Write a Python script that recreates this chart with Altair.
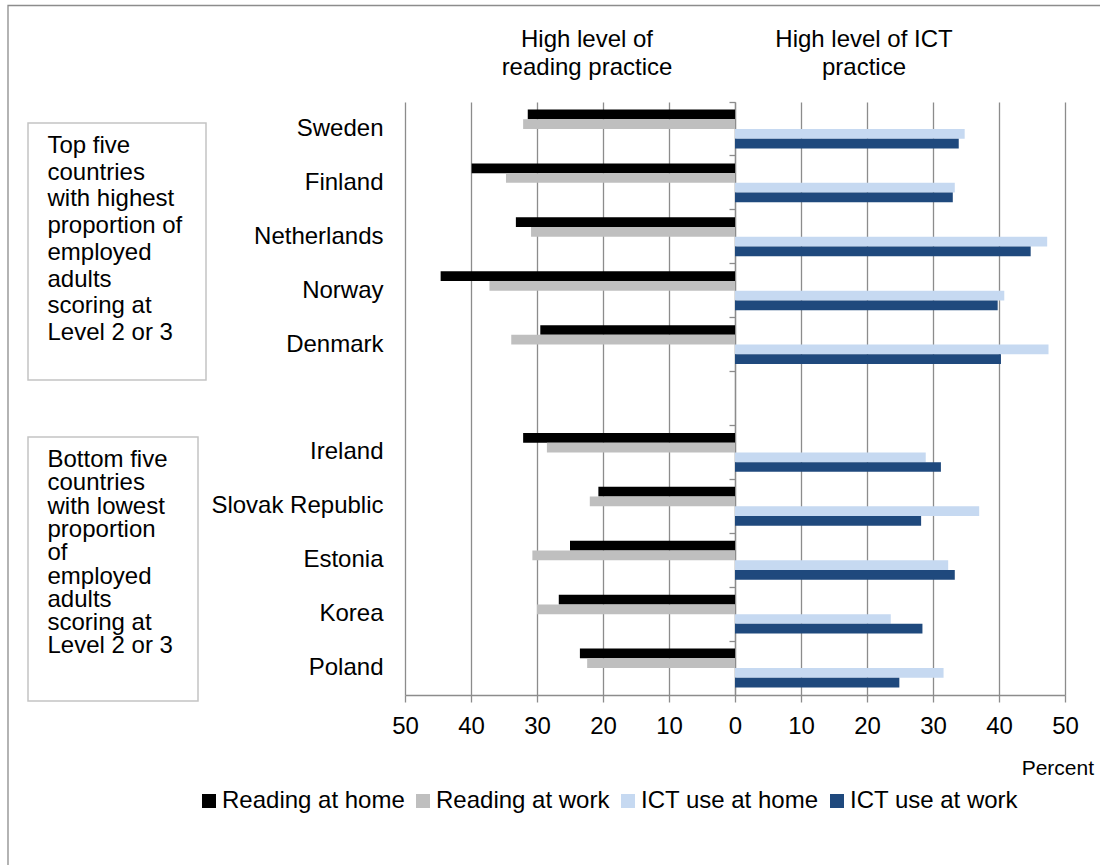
import altair as alt
import pandas as pd

countries = ["Sweden", "Finland", "Netherlands", "Norway", "Denmark",
             "Ireland", "Slovak Republic", "Estonia", "Korea", "Poland"]
reading_home = [31.4, 39.9, 33.2, 44.6, 29.5, 32.1, 20.7, 25.0, 26.7, 23.5]
reading_work = [32.1, 34.7, 30.9, 37.2, 33.9, 28.5, 22.0, 30.7, 30.0, 22.4]
ict_home = [34.8, 33.3, 47.3, 40.8, 47.5, 28.9, 37.0, 32.3, 23.6, 31.6]
ict_work = [33.9, 33.0, 44.8, 39.8, 40.3, 31.2, 28.2, 33.3, 28.4, 24.9]
series = ["Reading at home", "Reading at work", "ICT use at home", "ICT use at work"]
colors = ["#000000", "#bfbfbf", "#c6d9f1", "#1f497d"]
row_order = countries[:5] + ["gap"] + countries[5:]
x_ticks = [-50, -40, -30, -20, -10, 0, 10, 20, 30, 40, 50]

top_note = ["Top five", "countries", "with highest", "proportion of", "employed",
            "adults", "scoring at", "Level 2 or 3"]
bottom_note = ["Bottom five", "countries", "with lowest", "proportion", "of",
               "employed", "adults", "scoring at", "Level 2 or 3"]

rows = []
for i, c in enumerate(countries):
    rows.append({"country": c, "series": series[0], "value": -reading_home[i]})
    rows.append({"country": c, "series": series[1], "value": -reading_work[i]})
    rows.append({"country": c, "series": series[2], "value": ict_home[i]})
    rows.append({"country": c, "series": series[3], "value": ict_work[i]})
df = pd.DataFrame(rows)
one = pd.DataFrame({"k": [0]})

FONT = "Liberation Sans"
FS = 24
GRID = "#8c8c8c"

W, H = 660, 593

ysc = alt.Scale(domain=row_order, paddingInner=0, paddingOuter=0)

bars = alt.Chart(df).mark_bar().encode(
    x=alt.X("value:Q",
            scale=alt.Scale(domain=[-50, 50], nice=False),
            axis=alt.Axis(values=x_ticks, labelExpr="abs(datum.value)", grid=True,
                          gridColor=GRID, gridWidth=1.3, domainColor=GRID, domainWidth=1.3,
                          tickColor=GRID, tickWidth=1.3, tickSize=7, labelFontSize=FS,
                          labelFont=FONT, labelColor="black", labelPadding=12,
                          labelFlush=False, labelOverlap=False, title=None)),
    y=alt.Y("country:N", scale=ysc,
            axis=alt.Axis(orient="left", domain=False, ticks=False, labelFontSize=FS,
                          labelFont=FONT, labelColor="black", labelPadding=22,
                          labelExpr="datum.value == 'gap' ? '' : datum.value",
                          title=None, grid=False, labelLimit=0)),
    yOffset=alt.YOffset("series:N", sort=series,
                        scale=alt.Scale(domain=series, paddingInner=0, paddingOuter=0.77)),
    color=alt.Color("series:N",
                    scale=alt.Scale(domain=series, range=colors),
                    legend=alt.Legend(orient="none", legendX=-208, legendY=687,
                                      direction="horizontal", title=None, padding=0,
                                      symbolType="square", symbolSize=196,
                                      symbolStrokeWidth=0, labelFontSize=FS,
                                      labelFont=FONT, labelColor="black", labelOffset=1,
                                      columnPadding=6, labelLimit=0)),
)

tick_axis = alt.Chart(df).mark_point(opacity=0).encode(
    x=alt.X("value:Q", scale=alt.Scale(domain=[-50, 50], nice=False)),
    y=alt.Y("country:N", scale=ysc,
            axis=alt.Axis(orient="left", offset=-W / 2, labels=False, domain=True,
                          domainColor=GRID, domainWidth=1.3, ticks=True, tickColor=GRID,
                          tickWidth=1.3, tickSize=6, bandPosition=0, grid=False,
                          title=None)),
)

border = alt.Chart(one).mark_rect(fillOpacity=0, stroke=GRID, strokeWidth=1.3).encode(
    x=alt.value(-397), x2=alt.value(720), y=alt.value(-96.5), y2=alt.value(790))

box1 = alt.Chart(one).mark_rect(fillOpacity=0, stroke="#c4c4c4", strokeWidth=1.5).encode(
    x=alt.value(-377), x2=alt.value(-199), y=alt.value(21), y2=alt.value(278))
box2 = alt.Chart(one).mark_rect(fillOpacity=0, stroke="#c4c4c4", strokeWidth=1.5).encode(
    x=alt.value(-377), x2=alt.value(-207), y=alt.value(335), y2=alt.value(599))

note1 = alt.Chart(one).mark_text(text=top_note, align="left", baseline="middle",
                                  font=FONT, fontSize=FS, lineHeight=26.7,
                                  color="black").encode(
    x=alt.value(-357.5), y=alt.value(44))
note2 = alt.Chart(one).mark_text(text=bottom_note, align="left", baseline="middle",
                                  font=FONT, fontSize=FS, lineHeight=23.3,
                                  color="black").encode(
    x=alt.value(-357.5), y=alt.value(358))

title1 = alt.Chart(one).mark_text(text=["High level of", "reading practice"], align="center",
                                   baseline="middle", font=FONT, fontSize=FS,
                                   lineHeight=28, color="black").encode(
    x=alt.value(182), y=alt.value(-62))
title2 = alt.Chart(one).mark_text(text=["High level of ICT", "practice"], align="center",
                                   baseline="middle", font=FONT, fontSize=FS,
                                   lineHeight=28, color="black").encode(
    x=alt.value(459), y=alt.value(-62))

percent = alt.Chart(one).mark_text(text="Percent", align="right", baseline="middle",
                                    font=FONT, fontSize=21, color="black").encode(
    x=alt.value(689), y=alt.value(667))

chart = alt.layer(
    border, box1, box2, bars, tick_axis, note1, note2, title1, title2, percent
).resolve_axis(y="independent").properties(
    width=W, height=H,
    autosize=alt.AutoSizeParams(type="none"),
    padding={"left": 405, "top": 102, "right": 35, "bottom": 170},
    background="white",
).configure_view(stroke=None)

chart.save("out.html", embed_options={"renderer": "svg", "actions": False})
